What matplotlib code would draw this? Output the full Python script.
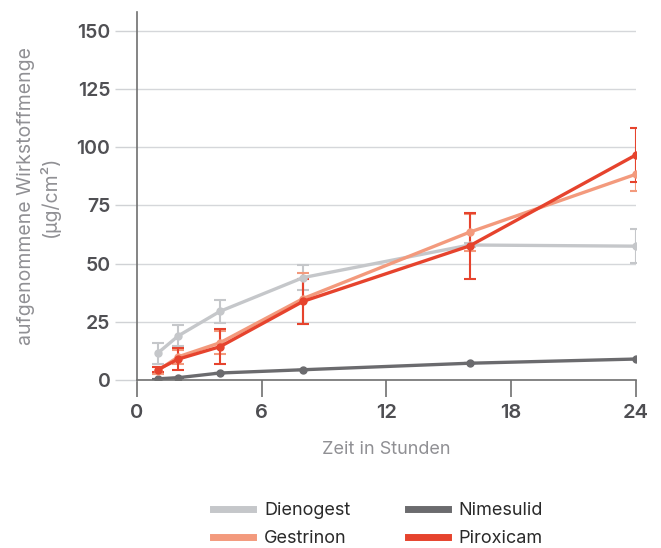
import matplotlib
matplotlib.use("Agg")
import matplotlib.pyplot as plt
from matplotlib.lines import Line2D

# Zeitpunkte (Stunden)
hours = [1, 2, 4, 8, 16, 24]

dienogest = [11.5, 19, 29.5, 44, 58, 57.5]
dienogest_err = [4.5, 4.6, 5, 5.4, 1, 7.3]

nimesulid = [0.5, 1, 3, 4.4, 7.2, 9]
nimesulid_err = [0, 0, 0, 0, 0, 0]

gestrinon = [4, 10, 16, 35, 63.5, 88.4]
gestrinon_err = [1.5, 3, 5, 11, 8, 7.4]

piroxicam = [4.4, 9, 14.3, 33.8, 57.6, 96.7]
piroxicam_err = [1, 4.8, 7.5, 9.7, 14, 11.7]

series_names = ["Dienogest", "Nimesulid", "Gestrinon", "Piroxicam"]
colors = ["#c5c7ca", "#6b6b6e", "#f39a7d", "#e6432d"]

x_ticks = [0, 6, 12, 18, 24]
y_ticks = [0, 25, 50, 75, 100, 125, 150]

plt.rcParams['font.family'] = ['Inter', 'DejaVu Sans']

fig = plt.figure(figsize=(6.61, 5.48), dpi=100)
ax = fig.add_axes([0.207, 0.3066, 0.755, 0.671])

data = [(dienogest, dienogest_err), (nimesulid, nimesulid_err),
        (gestrinon, gestrinon_err), (piroxicam, piroxicam_err)]
for (vals, errs), name, c in zip(data, series_names, colors):
    ax.errorbar(hours, vals, yerr=errs, color=c, lw=2.4, marker='o', ms=5,
                elinewidth=1.5, capsize=4.5, capthick=1.5, label=name)

ax.set_xlim(0, 24)
ax.set_ylim(0, 158)
ax.set_xticks(x_ticks)
ax.set_yticks(y_ticks)

ax.grid(axis='y', color='#d5d7da', lw=1)
ax.set_axisbelow(True)
for s in ['top', 'right']:
    ax.spines[s].set_visible(False)
ax.spines['left'].set_color('#707070')
ax.spines['bottom'].set_color('#707070')
ax.spines['left'].set_linewidth(1.2)
ax.spines['bottom'].set_linewidth(1.2)

ax.tick_params(axis='y', length=16, color='#d0d2d5', width=1, pad=3,
               labelsize=14, labelcolor='#505054')
ax.tick_params(axis='x', length=12, color='#707070', width=1.2, pad=5,
               labelsize=14.5, labelcolor='#4e4e52')
for lbl in ax.get_yticklabels():
    lbl.set_fontweight('semibold')
for lbl in ax.get_xticklabels():
    lbl.set_fontweight('semibold')

ax.set_xlabel('Zeit in Stunden', fontsize=13, color='#909094', labelpad=14)
ax.set_ylabel('aufgenommene Wirkstoffmenge\n(µg/cm²)', fontsize=14,
              color='#909094', labelpad=12, linespacing=1.25)

handles = [Line2D([0], [0], color=c, lw=5) for c in colors]
order = [0, 2, 1, 3]
fig.legend([handles[i] for i in order], [series_names[i] for i in order],
           loc='center', bbox_to_anchor=(0.572, 0.043), ncol=2, frameon=False,
           fontsize=13, handlelength=2.2, columnspacing=3.2,
           labelspacing=0.6, handletextpad=0.6, labelcolor='#2a2a2a')

fig.savefig('out.png', dpi=100)
